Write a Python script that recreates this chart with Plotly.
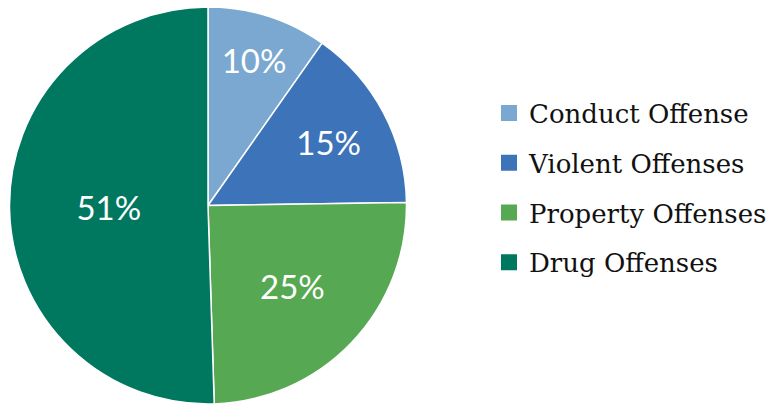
import plotly.graph_objects as go

labels = ["Conduct Offense", "Violent Offenses", "Property Offenses", "Drug Offenses"]
values = [9.75, 15.0, 24.75, 50.5]
pct_text = ["10%", "15%", "25%", "51%"]
colors = ["#7BA8D1", "#3D73B9", "#57A852", "#00775F"]

W, H = 773, 404

fig = go.Figure()
fig.add_trace(go.Pie(
    labels=labels, values=values, text=pct_text,
    textinfo="text", sort=False, direction="clockwise", rotation=0,
    marker=dict(colors=colors, line=dict(color="white", width=1.5)),
    textposition="inside", insidetextorientation="horizontal",
    textfont=dict(family="Lato", size=33, color="white"),
    showlegend=False, hoverinfo="label+percent",
    domain=dict(x=[9 / W, 407 / W], y=[0, 397 / H]),
))
for lab, col in zip(labels, colors):
    fig.add_trace(go.Scatter(
        x=[None], y=[None], mode="markers", name=lab, legendgroup=lab,
        marker=dict(symbol="square", size=18, color=col),
    ))

fig.update_layout(
    width=W, height=H, margin=dict(l=0, r=0, t=0, b=0),
    paper_bgcolor="white", plot_bgcolor="white",
    xaxis=dict(visible=False), yaxis=dict(visible=False),
    legend=dict(x=489 / W, y=1 - 188 / H, xanchor="left", yanchor="middle",
                font=dict(family="DejaVu Serif", size=26, color="#111111"),
                tracegroupgap=13, itemsizing="trace"),
)
fig.write_html("out.html", config={"displayModeBar": False},
               post_script="document.body.style.margin='0';")
